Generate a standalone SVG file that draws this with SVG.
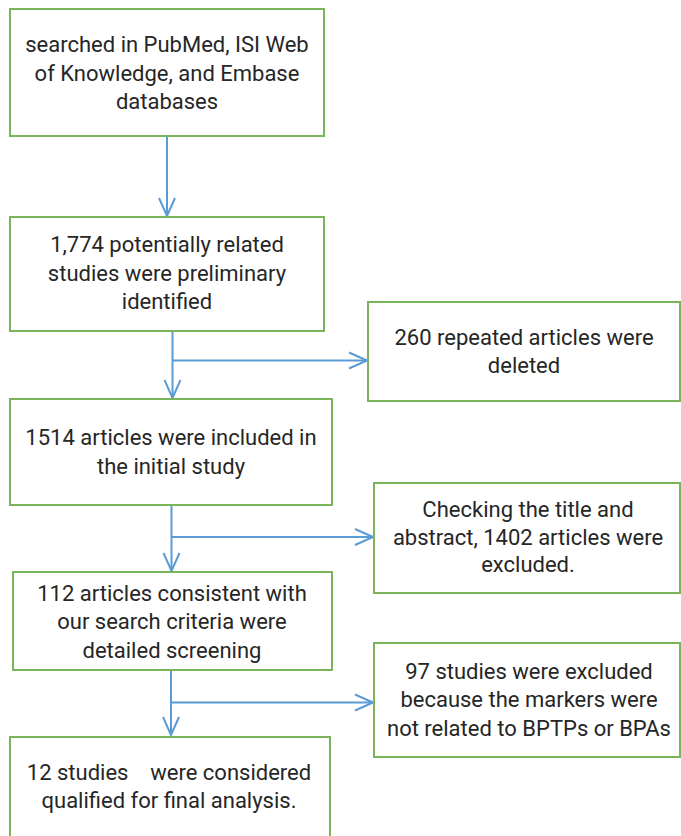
<svg xmlns="http://www.w3.org/2000/svg" width="681" height="836" viewBox="0 0 681 836">
<style>
.box{fill:#ffffff;stroke:#7ab55c;stroke-width:2}
.t{font-family:Roboto,"Liberation Sans",sans-serif;font-size:22px;fill:#262626;text-anchor:middle}
.c{fill:none;stroke:#5b9bd5;stroke-width:2}
</style>
<defs>
<marker id="arr" markerUnits="userSpaceOnUse" viewBox="-20 -10 22 20" refX="0" refY="0" markerWidth="22" markerHeight="20" orient="auto">
<path d="M-18,-8 L0,0 L-18,8" fill="none" stroke="#5b9bd5" stroke-width="2"/>
</marker>
</defs>
<rect width="681" height="836" fill="#ffffff"/>
<g id="connectors">
<line class="c" x1="167" y1="136" x2="167" y2="216" marker-end="url(#arr)"/>
<line class="c" x1="172.5" y1="331" x2="172.5" y2="398" marker-end="url(#arr)"/>
<line class="c" x1="172.5" y1="360.5" x2="367" y2="360.5" marker-end="url(#arr)"/>
<line class="c" x1="171.5" y1="505" x2="171.5" y2="571" marker-end="url(#arr)"/>
<line class="c" x1="171.5" y1="537" x2="373" y2="537" marker-end="url(#arr)"/>
<line class="c" x1="171" y1="670" x2="171" y2="735" marker-end="url(#arr)"/>
<line class="c" x1="171" y1="702.5" x2="373" y2="702.5" marker-end="url(#arr)"/>
</g>
<g id="n1">
<rect class="box" x="10" y="9" width="314" height="127"/>
<text class="t" x="167" y="52">searched in PubMed, ISI Web</text>
<text class="t" x="167" y="81">of Knowledge, and Embase</text>
<text class="t" x="167" y="109">databases</text>
</g>
<g id="n2">
<rect class="box" x="10" y="217" width="314" height="114"/>
<text class="t" x="167" y="252">1,774 potentially related</text>
<text class="t" x="167" y="281">studies were preliminary</text>
<text class="t" x="167" y="309">identified</text>
</g>
<g id="n3">
<rect class="box" x="368" y="302" width="312" height="99"/>
<text class="t" x="524" y="345">260 repeated articles were</text>
<text class="t" x="524" y="373">deleted</text>
</g>
<g id="n4">
<rect class="box" x="10" y="399" width="322" height="106"/>
<text class="t" x="171" y="445">1514 articles were included in</text>
<text class="t" x="171" y="474">the initial study</text>
</g>
<g id="n5">
<rect class="box" x="374" y="483" width="306" height="110"/>
<text class="t" x="528" y="517">Checking the title and</text>
<text class="t" x="528" y="545">abstract, 1402 articles were</text>
<text class="t" x="528" y="572">excluded.</text>
</g>
<g id="n6">
<rect class="box" x="13" y="572" width="319" height="98"/>
<text class="t" x="172" y="601">112 articles consistent with</text>
<text class="t" x="172" y="629">our search criteria were</text>
<text class="t" x="172" y="658">detailed screening</text>
</g>
<g id="n7">
<rect class="box" x="374" y="643" width="306" height="114"/>
<text class="t" x="529" y="679">97 studies were excluded</text>
<text class="t" x="529" y="707">because the markers were</text>
<text class="t" x="529" y="736">not related to BPTPs or BPAs</text>
</g>
<g id="n8">
<rect class="box" x="10" y="737" width="320" height="120"/>
<text class="t" x="169" y="780" xml:space="preserve">12 studies    were considered</text>
<text class="t" x="169" y="808">qualified for final analysis.</text>
</g>
</svg>
